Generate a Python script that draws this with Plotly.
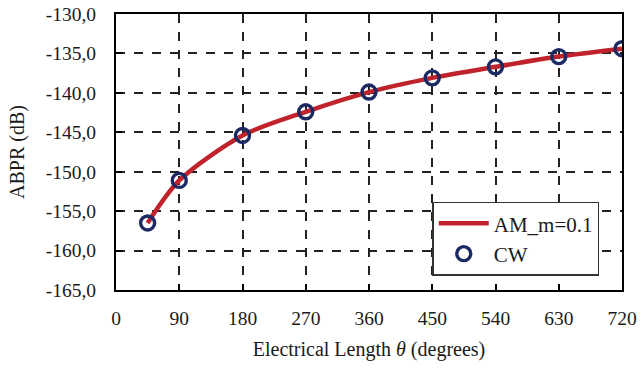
import plotly.graph_objects as go

theta = [45, 90, 180, 270, 360, 450, 540, 630, 720]
am_vals = [-156.5, -151.1, -145.4, -142.4, -139.9, -138.1, -136.7, -135.4, -134.4]
cw_vals = [-156.5, -151.1, -145.4, -142.4, -139.9, -138.1, -136.7, -135.4, -134.4]
x_ticks = [0, 90, 180, 270, 360, 450, 540, 630, 720]
y_ticks = [-165, -160, -155, -150, -145, -140, -135, -130]
y_tick_labels = ["-165,0", "-160,0", "-155,0", "-150,0", "-145,0", "-140,0", "-135,0", "-130,0"]

font = "Liberation Serif"

fig = go.Figure()
fig.add_trace(go.Scatter(x=theta, y=am_vals, mode="lines", name="AM_m=0.1",
                         line=dict(color="#c0232b", width=4.5, shape="spline", smoothing=0.8)))
fig.add_trace(go.Scatter(x=theta, y=cw_vals, mode="markers", name="CW",
                         marker=dict(symbol="circle-open", size=14, color="#1b2a63",
                                     line=dict(width=3.4, color="#1b2a63"))))

axis_common = dict(showline=True, linecolor="black", linewidth=2, mirror=True,
                   ticks="inside", ticklen=6, tickcolor="black", tickwidth=1.5,
                   showgrid=True, gridcolor="#222", gridwidth=1.5, griddash="dash",
                   zeroline=False, automargin=False,
                   tickfont=dict(family=font, size=19.5, color="#1a1a1a"))

fig.update_layout(
    width=641, height=368,
    margin=dict(l=116, r=19, t=14, b=78),
    plot_bgcolor="white", paper_bgcolor="white",
    font=dict(family=font, size=19, color="#1a1a1a"),
    xaxis=dict(range=[0, 720], tickvals=x_ticks, ticklabelstandoff=10, **axis_common,
               title=dict(text="Electrical Length <i>θ</i> (degrees)", font=dict(family=font, size=20),
                          standoff=14)),
    yaxis=dict(range=[-165, -130], tickvals=y_ticks, ticktext=y_tick_labels,
               ticklabelstandoff=14, **axis_common,
               title=dict(text="ABPR (dB)", font=dict(family=font, size=20), standoff=16)),
    legend=dict(x=0.625, y=0.32, xanchor="left", yanchor="top",
                bgcolor="white", bordercolor="#333", borderwidth=1.5,
                font=dict(family=font, size=21, color="#1a1a1a"),
                tracegroupgap=8, itemwidth=50),
    showlegend=True,
)

fig.write_html("out.html")
